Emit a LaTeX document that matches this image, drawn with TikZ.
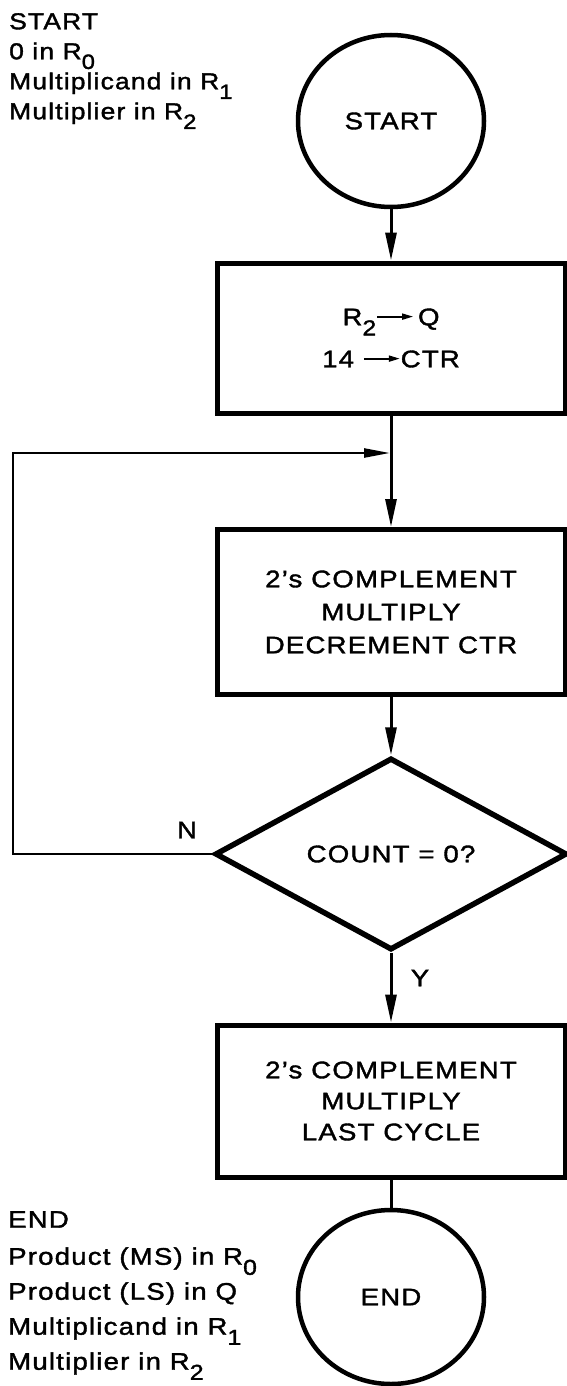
\documentclass[tikz,border=0pt]{standalone}
\usepackage{fontspec}
\setmainfont{Liberation Sans}[FakeStretch=1.15,LetterSpace=5,FakeBold=1.6]
\usetikzlibrary{shapes.geometric,arrows.meta}

\newcommand{\rsub}[1]{\smash{\raisebox{-0.42em}{\scalebox{0.9}{#1}}}}
\newcommand{\toarrow}{\tikz[baseline=-0.36em]\draw[line width=1.8pt,-{Triangle[length=11pt,width=6pt]}] (0pt,0pt) -- (36pt,0pt);}
\newcommand{\boxfont}{\fontsize{24}{33}\selectfont}
\newcommand{\notefont}{\fontsize{23}{30}\selectfont}

\tikzset{
  termnode/.style={draw, ellipse, line width=4.5pt, minimum width=186pt, minimum height=172pt, inner sep=0pt, font=\boxfont},
  procbox/.style={draw, rectangle, line width=5pt, minimum width=348pt, align=center, font=\boxfont},
  testnode/.style={draw, diamond, aspect=1.8, line width=5.5pt, minimum width=352pt, minimum height=192pt, inner sep=0pt, font=\boxfont},
  flow/.style={line width=3pt, -{Triangle[length=28pt,width=11pt]}},
  loopflow/.style={line width=2.5pt, -{Triangle[length=26pt,width=9pt]}, shorten >=1pt},
  note/.style={anchor=north west, align=left, inner sep=0pt, font=\notefont},
}

\begin{document}
\begin{tikzpicture}[x=1pt,y=-1pt]
\useasboundingbox (0,0) rectangle (567,1386);

% notes at the side
\node[note] (startnote) at (9,13) {START\\0 in R\rsub{0}\\Multiplicand in R\rsub{1}\\Multiplier in R\rsub{2}};
\node[note, font=\fontsize{24}{35}\selectfont] (endnote) at (8,1211) {END\\[2pt]Product (MS) in R\rsub{0}\\Product (LS) in Q\\Multiplicand in R\rsub{1}\\Multiplier in R\rsub{2}};

% flow chart
\node[termnode] (start) at (391,121) {START};
\node[procbox, minimum height=150pt] (init) at (391,338) {R\rsub{2}\toarrow\,Q\\[9pt]14 \toarrow CTR};
\node[procbox, minimum height=165pt] (loop) at (391,612) {2’s COMPLEMENT\\MULTIPLY\\DECREMENT CTR};
\node[testnode] (test) at (391,854) {COUNT = 0?};
\node[procbox, minimum height=152pt] (last) at (391,1101) {2’s COMPLEMENT\\[-2pt]MULTIPLY\\[-2pt]LAST CYCLE};
\node[termnode, minimum height=174pt] (end) at (391,1297) {END};

\coordinate (merge) at (391,453);
\coordinate (corner) at (13,854);

\draw[flow] (start) -- (init);
\draw[flow] (init) -- (loop);
\draw[loopflow] (test.west) -- (corner) |- (merge);
\draw[flow] (loop) -- (test);
\draw[flow] (test) -- (last);
\draw[line width=3pt] (last) -- (end);

\node[font=\boxfont] (nlab) at (187,830) {N};
\node[font=\boxfont] (ylab) at (420,978) {Y};
\end{tikzpicture}
\end{document}
